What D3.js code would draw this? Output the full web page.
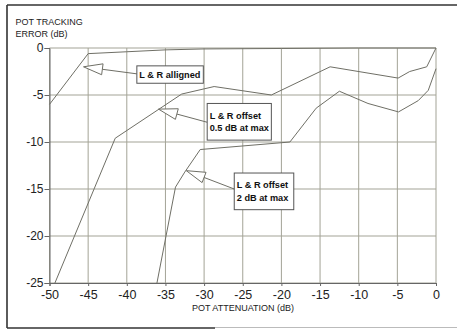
<!DOCTYPE html>
<html>
<head>
<meta charset="utf-8">
<script src="https://cdn.jsdelivr.net/npm/d3@7"></script>
<style>
html,body{margin:0;padding:0;background:#fff;}
svg{display:block;}
text{font-family:"Liberation Sans",Arial,sans-serif;}
</style>
</head>
<body>
<svg id="chart" width="457" height="330"></svg>
<script>
// ---- data ----
const xTicks = [-50, -45, -40, -35, -30, -25, -20, -15, -10, -5, 0];
const yTicks = [0, -5, -10, -15, -20, -25];

const xAligned = [-50, -45, -40, -35, -30, -20, -10, 0];
const yAligned = [-6, -0.6, -0.4, -0.2, -0.1, -0.05, 0, 0];

const xOffset05 = [-49.3, -41.5, -32.9, -28.7, -21.3, -13.7, -4.9, -3.4, -1.2, 0];
const yOffset05 = [-25, -9.6, -4.9, -4.1, -5.0, -2.0, -3.2, -2.5, -2.0, 0];

const xOffset2 = [-36.1, -33.7, -32.5, -30.5, -18.9, -15.5, -12.5, -8.8, -4.85, -2.3, -1.0, 0];
const yOffset2 = [-25, -14.8, -13.2, -10.8, -10.0, -6.4, -4.6, -5.9, -6.8, -5.6, -4.5, -2.2];

// annotation labels (box corners & arrow tip in data units)
const noteLines = [["L & R alligned"], ["L & R offset", "0.5 dB at max"], ["L & R offset", "2 dB at max"]];
const noteBoxX0 = [-38.7, -29.6, -26.1];
const noteBoxX1 = [-30.1, -21.3, -18.4];
const noteBoxY0 = [-1.9, -5.9, -13.3];
const noteBoxY1 = [-3.75, -9.8, -17.2];
const noteTipX = [-45.6, -35.9, -32.3];
const noteTipY = [-2.0, -6.5, -13.05];
const noteShaftY = [-2.75, -7.9, -15.0];

// ---- drawing ----
const svg = d3.select("#chart");
const x = d3.scaleLinear().domain([-50, 0]).range([49.5, 436]);
const y = d3.scaleLinear().domain([-25, 0]).range([283, 48]);

const gridCol = "#a3a396";
const lineCol = "#6f6f66";

// outer frame
svg.append("line").attr("x1", 7).attr("y1", 5).attr("x2", 457).attr("y2", 5)
  .attr("stroke", "#333").attr("stroke-width", 1.6);
svg.append("line").attr("x1", 7).attr("y1", 5).attr("x2", 7).attr("y2", 328)
  .attr("stroke", "#333").attr("stroke-width", 1.6);
svg.append("line").attr("x1", 7).attr("y1", 328).attr("x2", 215).attr("y2", 328)
  .attr("stroke", "#333").attr("stroke-width", 1.6);
svg.append("line").attr("x1", 215).attr("y1", 327.5).attr("x2", 457).attr("y2", 327.5)
  .attr("stroke", "#bbb").attr("stroke-width", 1.2);

// grid
const grid = svg.append("g");
grid.selectAll("line.v").data(xTicks).join("line")
  .attr("x1", d => x(d)).attr("x2", d => x(d)).attr("y1", y(0)).attr("y2", y(-25))
  .attr("stroke", gridCol).attr("stroke-width", 1);
grid.selectAll("line.h").data(yTicks).join("line")
  .attr("x1", x(-50)).attr("x2", x(0)).attr("y1", d => y(d)).attr("y2", d => y(d))
  .attr("stroke", gridCol).attr("stroke-width", 1);

// axes
const xAxis = d3.axisBottom(x).tickValues(xTicks).tickSize(3).tickPadding(4)
  .tickFormat(d => d3.format("d")(d).replace("−", "-"));
const gx = svg.append("g").attr("transform", `translate(0,${y(-25)})`).call(xAxis);
gx.select(".domain").attr("stroke", "#666");
gx.selectAll(".tick line").attr("stroke", "#666");
gx.selectAll(".tick text").attr("fill", "#222").attr("font-size", 12.5)
  .attr("font-family", "'Liberation Sans', Arial, sans-serif");

const yAxis = d3.axisLeft(y).tickValues(yTicks).tickSize(5).tickPadding(1)
  .tickFormat(d => d3.format("d")(d).replace("−", "-"));
const gy = svg.append("g").attr("transform", `translate(${x(-50)},0)`).call(yAxis);
gy.select(".domain").attr("stroke", "#666");
gy.selectAll(".tick line").attr("stroke", "#666");
gy.selectAll(".tick text").attr("fill", "#222").attr("font-size", 12)
  .attr("font-family", "'Liberation Sans', Arial, sans-serif");

// axis titles
svg.append("text").attr("x", 15.5).attr("y", 25).attr("font-size", 9).attr("fill", "#222")
  .text("POT TRACKING");
svg.append("text").attr("x", 15.5).attr("y", 37).attr("font-size", 9).attr("fill", "#222")
  .text("ERROR (dB)");
svg.append("text").attr("x", 243).attr("y", 310.5).attr("font-size", 9).attr("fill", "#222")
  .attr("text-anchor", "middle").text("POT ATTENUATION (dB)");

// series
const line = d3.line().x(d => x(d[0])).y(d => y(d[1]));
const series = [
  d3.zip(xAligned, yAligned),
  d3.zip(xOffset05, yOffset05),
  d3.zip(xOffset2, yOffset2)
];
svg.append("g").selectAll("path").data(series).join("path")
  .attr("d", line).attr("fill", "none").attr("stroke", lineCol).attr("stroke-width", 1);

// annotations
noteLines.forEach((lines, i) => {
  const bx0 = x(noteBoxX0[i]), bx1 = x(noteBoxX1[i]);
  const by0 = y(noteBoxY0[i]), by1 = y(noteBoxY1[i]);
  const tx = x(noteTipX[i]), ty = y(noteTipY[i]);
  const sx = bx0, sy = y(noteShaftY[i]);
  const dx = sx - tx, dy = sy - ty, len = Math.hypot(dx, dy);
  const ux = dx / len, uy = dy / len;
  const hl = 19, hw = 5.5;
  const cx = tx + ux * hl, cy = ty + uy * hl;
  const g = svg.append("g");
  g.append("line").attr("x1", cx).attr("y1", cy).attr("x2", sx).attr("y2", sy)
    .attr("stroke", lineCol).attr("stroke-width", 1);
  g.append("path")
    .attr("d", `M${tx},${ty}L${cx - uy * hw},${cy + ux * hw}L${cx + uy * hw},${cy - ux * hw}Z`)
    .attr("fill", "#fff").attr("stroke", lineCol).attr("stroke-width", 1);
  g.append("rect").attr("x", bx0).attr("y", by0).attr("width", bx1 - bx0).attr("height", by1 - by0)
    .attr("fill", "#fff").attr("stroke", "#555").attr("stroke-width", 1);
  const n = lines.length, midY = (by0 + by1) / 2, lh = 12.5;
  lines.forEach((t, j) => {
    g.append("text").attr("x", bx0 + 2.5).attr("y", midY + (j - (n - 1) / 2) * lh + 3.2)
      .attr("font-size", 9.2).attr("font-weight", "bold").attr("fill", "#111").text(t);
  });
});
</script>
</body>
</html>
